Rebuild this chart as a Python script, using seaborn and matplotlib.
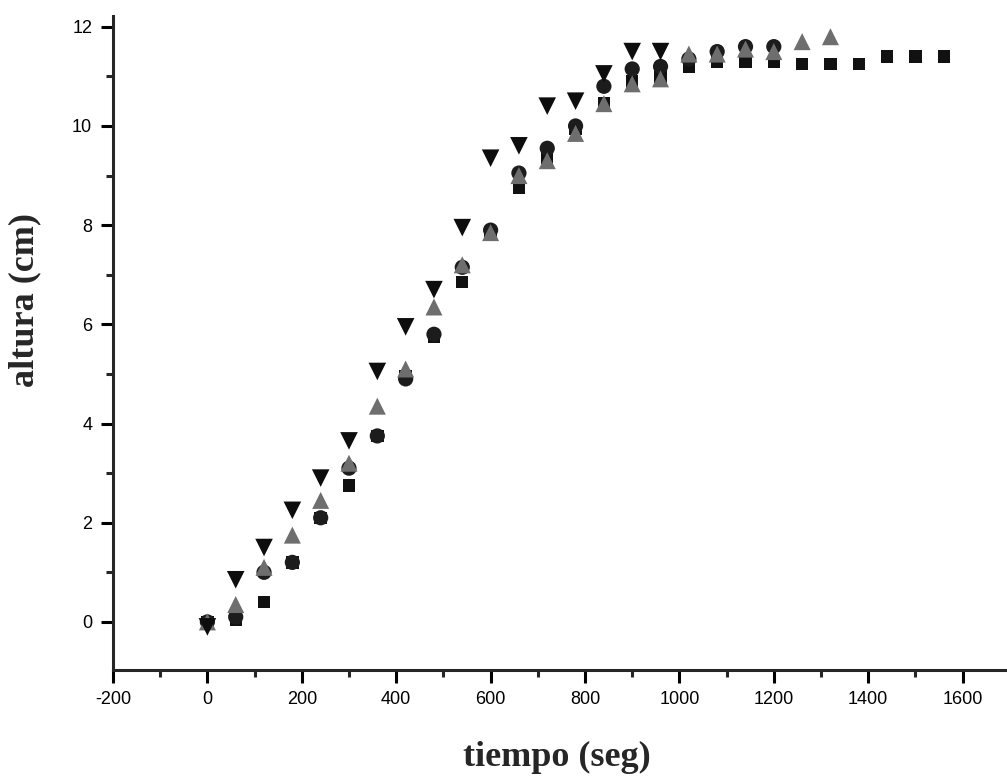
import matplotlib

matplotlib.use("Agg")
import matplotlib.pyplot as plt
import pandas as pd
import seaborn as sns
from matplotlib.ticker import MultipleLocator

# tiempo (seg) for each series, 60 s steps
t_cuadrado = [0, 60, 120, 180, 240, 300, 360, 420, 480, 540, 600, 660, 720, 780,
              840, 900, 960, 1020, 1080, 1140, 1200, 1260, 1320, 1380, 1440, 1500, 1560]
h_cuadrado = [0.0, 0.05, 0.4, 1.2, 2.1, 2.75, 3.75, 4.95, 5.75, 6.85, 7.85, 8.75, 9.35, 9.95,
              10.45, 10.9, 11.0, 11.2, 11.3, 11.3, 11.3, 11.25, 11.25, 11.25, 11.4, 11.4, 11.4]

t_circulo = [0, 60, 120, 180, 240, 300, 360, 420, 480, 540, 600, 660, 720, 780,
             840, 900, 960, 1020, 1080, 1140, 1200]
h_circulo = [0.0, 0.1, 1.0, 1.2, 2.1, 3.1, 3.75, 4.9, 5.8, 7.15, 7.9, 9.05, 9.55, 10.0,
             10.8, 11.15, 11.2, 11.35, 11.5, 11.6, 11.6]

t_triangulo = [0, 60, 120, 180, 240, 300, 360, 420, 480, 540, 600, 660, 720, 780,
               840, 900, 960, 1020, 1080, 1140, 1200, 1260, 1320]
h_triangulo = [0.0, 0.35, 1.1, 1.75, 2.45, 3.2, 4.35, 5.1, 6.35, 7.2, 7.85, 9.0, 9.3, 9.85,
               10.45, 10.85, 10.95, 11.45, 11.45, 11.55, 11.5, 11.7, 11.8]

t_invertido = [0, 60, 120, 180, 240, 300, 360, 420, 480, 540, 600, 660, 720, 780,
               840, 900, 960]
h_invertido = [-0.1, 0.85, 1.5, 2.25, 2.9, 3.65, 5.05, 5.95, 6.7, 7.95, 9.35, 9.6, 10.4, 10.5,
               11.05, 11.5, 11.5]

sns.set_style("ticks")
plt.rcParams["font.family"] = ["Liberation Sans", "DejaVu Sans"]
plt.rcParams["axes.unicode_minus"] = False

fig = plt.figure(figsize=(10.07, 7.82), dpi=100)
ax = fig.add_axes([0.1122, 0.1432, 0.8878, 0.8365])

series = [
    (t_cuadrado, h_cuadrado, "s", "#111111", 80),
    (t_circulo, h_circulo, "o", "#1c1c1c", 120),
    (t_triangulo, h_triangulo, "^", "#6e6e6e", 150),
    (t_invertido, h_invertido, "v", "#0d0d0d", 160),
]
for t, h, m, c, s in series:
    df = pd.DataFrame({"tiempo": t, "altura": h})
    sns.scatterplot(data=df, x="tiempo", y="altura", marker=m, color=c, s=s,
                    edgecolor="none", linewidth=0, ax=ax)

ax.set_xlim(-200, 1694)
ax.set_ylim(-0.97, 12.22)
ax.xaxis.set_major_locator(MultipleLocator(200))
ax.xaxis.set_minor_locator(MultipleLocator(100))
ax.yaxis.set_major_locator(MultipleLocator(2))
ax.yaxis.set_minor_locator(MultipleLocator(1))

sns.despine(ax=ax)
for side in ["left", "bottom"]:
    ax.spines[side].set_linewidth(2.2)
ax.tick_params(which="major", direction="out", length=9, width=2.2,
               labelsize=13, pad=6, colors="black")
ax.tick_params(which="minor", direction="out", length=5, width=2.2)

ax.set_xlabel("tiempo (seg)", family="Liberation Serif", fontweight="bold", fontsize=26)
ax.set_ylabel("altura (cm)", family="Liberation Serif", fontweight="bold", fontsize=26)
ax.xaxis.set_label_coords(0.497, -0.108)
ax.yaxis.set_label_coords(-0.08, 0.566)

fig.savefig("out.png", dpi=100, facecolor="white")
